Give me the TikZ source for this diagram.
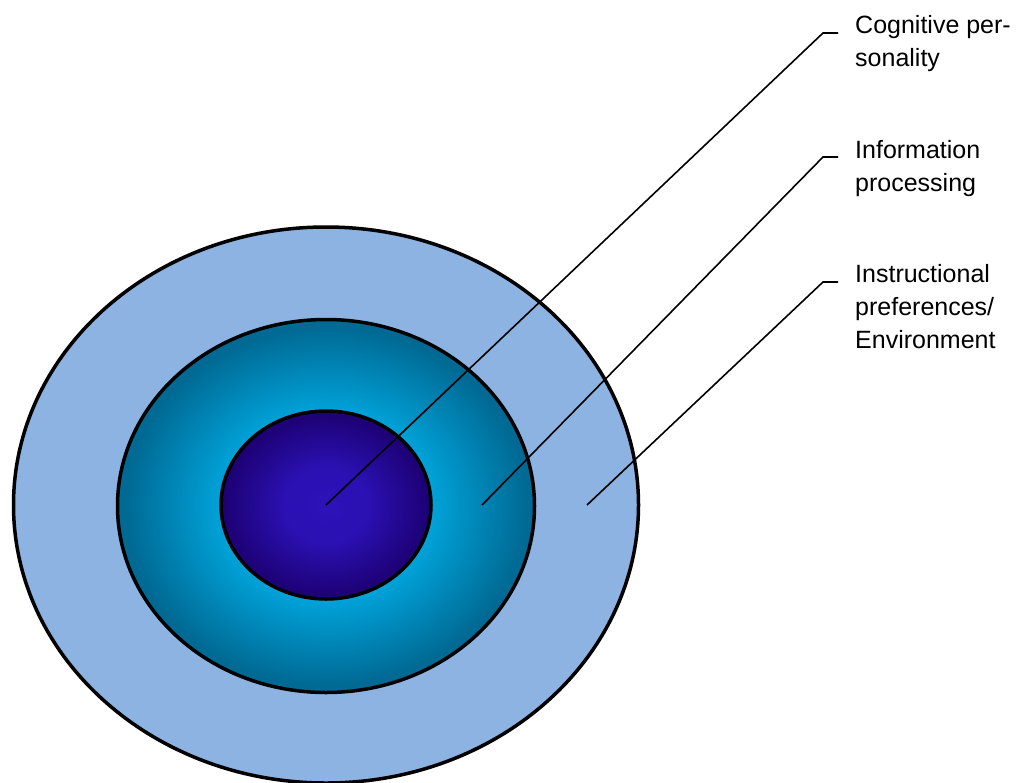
\documentclass[tikz,border=0pt]{standalone}
\usepackage{fontspec}
\setmainfont{Liberation Sans}
\usetikzlibrary{shapes.geometric}
\definecolor{outerblue}{HTML}{8DB3E2}
\definecolor{midcyan}{HTML}{00A3DA}
\definecolor{midteal}{HTML}{006A94}
\definecolor{coreblue}{HTML}{2C12B8}
\definecolor{coredark}{HTML}{1C0072}
\pgfdeclareradialshading{midshade}{\pgfpoint{0bp}{0bp}}{color(0bp)=(midcyan); color(12.5bp)=(midcyan); color(24bp)=(midteal); color(50bp)=(midteal)}
\pgfdeclareradialshading{coreshade}{\pgfpoint{0bp}{0bp}}{color(0bp)=(coreblue); color(10bp)=(coreblue!92!coredark); color(25bp)=(coredark); color(50bp)=(coredark)}
\tikzset{
  ring/.style={ellipse, draw=black, line width=3.5pt, inner sep=0pt},
  leader/.style={draw=black, line width=1.6pt},
  lbl/.style={anchor=north west, align=left, inner sep=0pt, font=\fontsize{25}{33}\selectfont}
}
\begin{document}
\begin{tikzpicture}[x=1pt,y=-1pt]
\useasboundingbox (0,0) rectangle (1022,782);
\clip (0,0) rectangle (1022,782);
\node[ring, fill=outerblue, minimum width=625pt, minimum height=556pt] (outer) at (326,505) {};
\node[ring, shading=midshade, minimum width=417pt, minimum height=373pt] (mid) at (326,506) {};
\node[ring, shading=coreshade, minimum width=210pt, minimum height=188pt] (core) at (326,505) {};
\coordinate (p1) at (326,505);
\coordinate (p2) at (482,505);
\coordinate (p3) at (587,505);
\coordinate (k1) at (823,33);
\coordinate (k2) at (823,157);
\coordinate (k3) at (823,282);
\coordinate (e1) at (838,33);
\coordinate (e2) at (838,157);
\coordinate (e3) at (838,282);
\node[lbl] (l1) at (855,15) {Cognitive per-\\sonality};
\node[lbl] (l2) at (855,140) {Information\\processing};
\node[lbl] (l3) at (855,264) {Instructional\\preferences/\\Environment};
\draw[leader] (p1) -- (k1) -- (e1);
\draw[leader] (p2) -- (k2) -- (e2);
\draw[leader] (p3) -- (k3) -- (e3);
\end{tikzpicture}
\end{document}
